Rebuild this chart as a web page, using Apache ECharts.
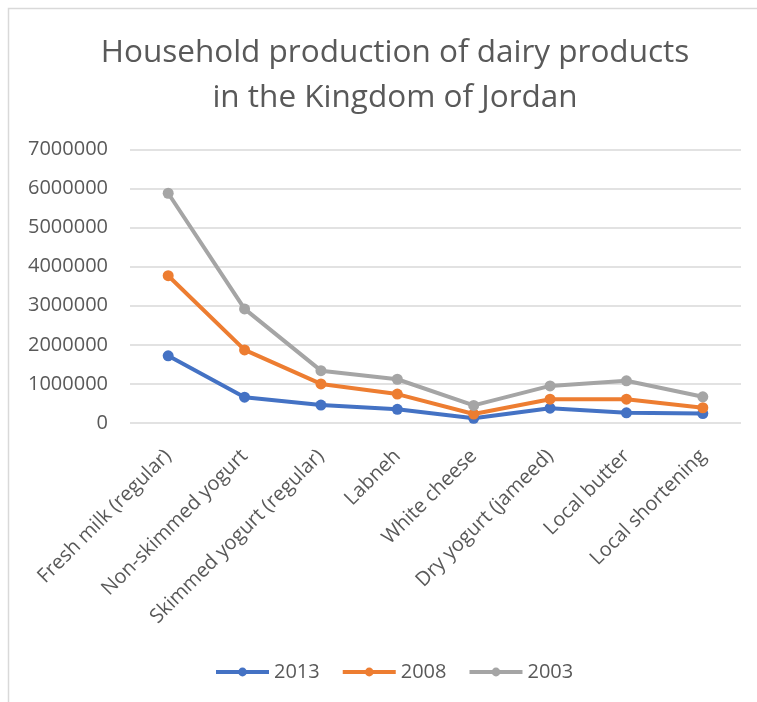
<!DOCTYPE html>
<html>
<head>
<meta charset="utf-8">
<script src="https://cdn.jsdelivr.net/npm/echarts@6/dist/echarts.min.js"></script>
<style>
  html, body { margin: 0; padding: 0; background: #fff; }
  #chart { width: 757px; height: 702px; }
</style>
</head>
<body>
<div id="chart"></div>
<script>
// Household dairy production by product, three survey years
const categories = [
  'Fresh milk (regular)', 'Non-skimmed yogurt', 'Skimmed yogurt (regular)', 'Labneh',
  'White cheese', 'Dry yogurt (jameed)', 'Local butter', 'Local shortening'
];
const values2013 = [1720000, 660000, 460000, 350000, 120000, 380000, 260000, 240000];
const values2008 = [3770000, 1870000, 1000000, 740000, 230000, 610000, 610000, 390000];
const values2003 = [5880000, 2920000, 1340000, 1120000, 450000, 950000, 1080000, 670000];
const yTicks = { min: 0, max: 7000000, interval: 1000000 };

const textFont = '"Open Sans", sans-serif';
const textColor = '#595959';

function lineSeries(name, data, color) {
  return {
    name: name,
    type: 'line',
    data: data,
    symbol: 'circle',
    symbolSize: 11,
    lineStyle: { width: 4, color: color },
    itemStyle: { color: color },
    emphasis: { disabled: true }
  };
}

const chart = echarts.init(document.getElementById('chart'), null, { renderer: 'canvas' });
chart.setOption({
  animation: false,
  backgroundColor: '#ffffff',
  color: ['#4472C4', '#ED7D31', '#A5A5A5'],
  graphic: [{
    type: 'rect',
    shape: { x: 8.5, y: 8.5, width: 900, height: 900 },
    style: { fill: 'none', stroke: '#D9D9D9', lineWidth: 1.5 },
    silent: true
  }],
  title: {
    text: 'Household production of dairy products\nin the Kingdom of Jordan',
    left: 390,
    textAlign: 'center',
    top: 26,
    textStyle: {
      fontFamily: textFont,
      fontSize: 31.5,
      fontWeight: 'normal',
      color: textColor,
      lineHeight: 45
    }
  },
  legend: {
    top: 657,
    left: 209,
    itemWidth: 53,
    itemHeight: 11,
    itemGap: 21,
    lineStyle: { width: 4 },
    textStyle: { fontFamily: textFont, fontSize: 20, color: textColor },
    data: ['2013', '2008', '2003']
  },
  grid: { left: 130, right: 16, top: 149.5, bottom: 279, containLabel: false },
  xAxis: {
    type: 'category',
    data: categories,
    boundaryGap: true,
    axisLine: { show: false },
    axisTick: { show: false },
    axisLabel: {
      rotate: 45,
      interval: 0,
      margin: 30,
      fontFamily: textFont,
      fontSize: 20,
      color: textColor
    }
  },
  yAxis: {
    type: 'value',
    min: yTicks.min,
    max: yTicks.max,
    interval: yTicks.interval,
    axisLine: { show: false },
    axisTick: { show: false },
    axisLabel: {
      margin: 22,
      fontFamily: textFont,
      fontSize: 20,
      color: textColor,
      formatter: function (v) { return String(v); }
    },
    splitLine: { lineStyle: { color: '#D9D9D9', width: 1.5 } }
  },
  series: [
    lineSeries('2013', values2013, '#4472C4'),
    lineSeries('2008', values2008, '#ED7D31'),
    lineSeries('2003', values2003, '#A5A5A5')
  ]
});
</script>
</body>
</html>
